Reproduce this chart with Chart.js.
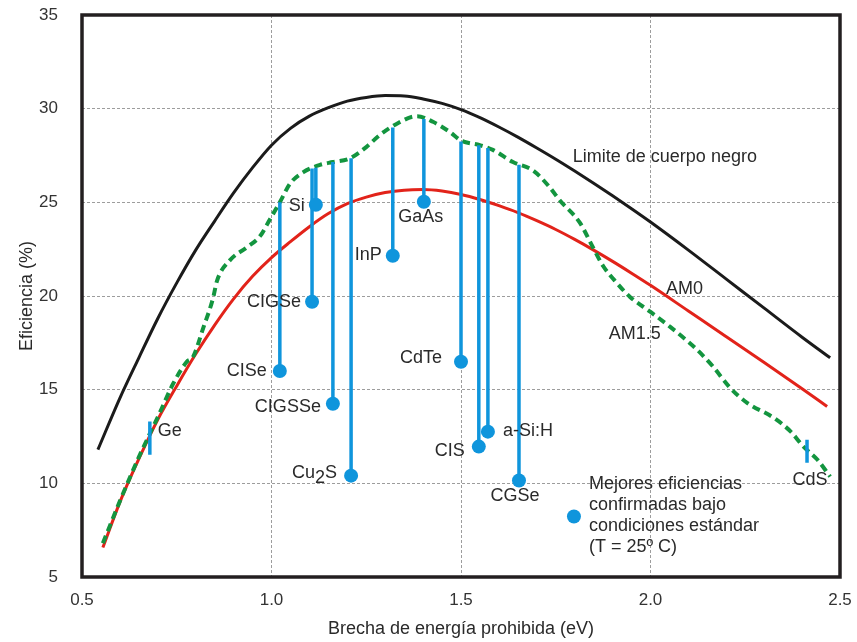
<!DOCTYPE html>
<html><head><meta charset="utf-8">
<script src="https://cdn.jsdelivr.net/npm/chart.js@4/dist/chart.umd.min.js"></script>
<style>html,body{margin:0;padding:0;background:#fff}#wrap{width:857px;height:642px}</style>
</head><body><div id="wrap"><canvas id="c" width="857" height="642"></canvas></div>
<script>
// ---------- DATA ----------
const blackbodyGap = [0.542,0.6,0.65,0.7,0.75,0.8,0.85,0.9,0.95,1.0,1.05,1.1,1.15,1.2,1.25,1.3,1.35,1.4,1.45,1.5,1.55,1.6,1.65,1.7,1.75,1.8,1.85,1.9,1.95,2.0,2.1,2.2,2.3,2.4,2.474];
const blackbodyEff = [11.8,14.55,16.7,18.8,20.7,22.45,24.0,25.5,26.85,28.05,28.95,29.6,30.05,30.4,30.6,30.7,30.68,30.52,30.28,29.95,29.52,29.02,28.48,27.9,27.3,26.67,26.02,25.35,24.66,23.95,22.45,20.9,19.35,17.8,16.7];

const am0Gap = [0.555,0.6,0.65,0.7,0.75,0.8,0.85,0.9,0.95,1.0,1.05,1.1,1.15,1.2,1.25,1.3,1.35,1.4,1.45,1.5,1.55,1.6,1.65,1.7,1.75,1.8,1.85,1.9,1.95,2.0,2.1,2.2,2.3,2.4,2.466];
const am0Eff = [6.57,9.0,11.3,13.4,15.2,16.9,18.45,19.85,21.05,22.05,22.9,23.7,24.4,24.93,25.28,25.52,25.65,25.68,25.6,25.42,25.15,24.82,24.45,24.02,23.55,23.02,22.45,21.85,21.22,20.57,19.2,17.83,16.45,15.05,14.1];

const am15Gap = [0.555,0.6,0.65,0.679,0.706,0.74,0.777,0.793,0.82,0.846,0.856,0.89,0.935,0.97,0.996,1.022,1.049,1.083,1.128,1.162,1.207,1.25,1.286,1.331,1.384,1.426,1.471,1.5,1.55,1.584,1.637,1.69,1.73,1.761,1.814,1.848,1.875,1.911,1.946,2.0,2.052,2.1,2.123,2.165,2.21,2.255,2.325,2.37,2.403,2.44,2.474];
const am15Eff = [6.8,9.05,11.4,12.65,13.8,15.3,16.5,16.75,18.3,19.9,20.8,21.9,22.6,23.2,24.1,25.0,26.0,26.6,27.0,27.15,27.35,27.95,28.6,29.2,29.6,29.3,28.75,28.3,28.05,27.8,27.15,26.7,25.9,25.1,23.9,22.6,21.6,20.7,19.95,19.15,18.35,17.55,17.13,16.23,15.1,14.3,13.5,12.76,11.97,11.27,10.36];

const materials   = ['CISe','CIGSe','Si','CIGSSe','Cu2S','InP','GaAs','CdTe','CIS','a-Si:H','CGSe'];
const materialGap = [1.022,1.107,1.117,1.162,1.21,1.32,1.402,1.5,1.547,1.571,1.653];
const materialEff = [16.0,19.69,24.87,14.25,10.41,22.15,25.03,16.49,11.96,12.76,10.15];
const materialAM15 = [25.0,26.8,26.85,27.15,27.35,29.0,29.45,28.25,28.05,27.9,27.0];

const barMarkers   = ['Ge','CdS'];
const barMarkerGap = [0.679,2.413];
const barMarkerLow = [11.53,11.1];
const barMarkerHigh= [13.3,12.33];

const curveLabels = ['Limite de cuerpo negro','AM0','AM1.5'];
const curveLabelGap = [1.795,2.041,1.89];
const curveLabelEff = [27.42,20.38,17.95];

const legendLines = ['Mejores eficiencias','confirmadas bajo','condiciones estándar','(T = 25º C)'];
const legendGap = [1.798];
const legendEff = [8.23];

const xTicks = [0.5,1.0,1.5,2.0,2.5];
const yTicks = [5,10,15,20,25,30,35];

// ---------- STYLE ----------
const FONT = "'Liberation Sans', Arial, Helvetica, sans-serif";
const BLUE = '#0f95dc';
const TXT = '#2a2a2a';
const materialLabelStyle = {
  'CISe':[-13,0,'right'], 'CIGSe':[-11,0,'right'], 'Si':[-11,1,'right'], 'CIGSSe':[-12,3,'right'],
  'Cu2S':[-14,-3,'right'], 'InP':[-11,-1,'right'], 'GaAs':[-3,15,'center'], 'CdTe':[-19,-4,'right'],
  'CIS':[-14,4,'right'], 'a-Si:H':[15,-1,'left'], 'CGSe':[-4,16,'center']
};
const markerLabelStyle = { 'Ge':[8,-7,'left','high'], 'CdS':[3,17,'center','low'] };
const legendLineOffsets = [-32,-11,10,31];

const pts = (xs, ys) => xs.map((x,i)=>({x, y: ys[i]}));
const stemPts = [];
materialGap.forEach((g,i)=>{ stemPts.push({x:g,y:materialAM15[i]},{x:g,y:materialEff[i]},{x:g,y:null}); });
const tickPts = [];
barMarkerGap.forEach((g,i)=>{ tickPts.push({x:g,y:barMarkerHigh[i]},{x:g,y:barMarkerLow[i]},{x:g,y:null}); });

function drawFormula(ctx, text, x, y, align){
  const parts = text.split(/(\d)/).filter(s=>s.length);
  const widths = parts.map(p=>ctx.measureText(p).width);
  const total = widths.reduce((a,b)=>a+b,0);
  let sx = align==='right' ? x-total : align==='center' ? x-total/2 : x;
  ctx.textAlign='left';
  parts.forEach((p,i)=>{ ctx.fillText(p, sx, /^\d$/.test(p) ? y+5 : y); sx += widths[i]; });
}

const annot = {
  id:'annot',
  afterDatasetsDraw(chart){
    const ctx = chart.ctx, xs = chart.scales.x, ys = chart.scales.y;
    ctx.save();
    ctx.fillStyle = TXT;
    ctx.font = '18px ' + FONT;
    ctx.textBaseline = 'middle';
    materials.forEach((m,i)=>{
      const [dx,dy,al] = materialLabelStyle[m];
      drawFormula(ctx, m, xs.getPixelForValue(materialGap[i])+dx, ys.getPixelForValue(materialEff[i])+dy, al);
    });
    barMarkers.forEach((m,i)=>{
      const [dx,dy,al,ref] = markerLabelStyle[m];
      const yv = ref==='high' ? (barMarkerHigh[i]+barMarkerLow[i])/2 : barMarkerLow[i];
      drawFormula(ctx, m, xs.getPixelForValue(barMarkerGap[i])+dx, ys.getPixelForValue(yv)+dy, al);
    });
    curveLabels.forEach((t,i)=>{
      ctx.textAlign='left';
      ctx.fillText(t, xs.getPixelForValue(curveLabelGap[i]), ys.getPixelForValue(curveLabelEff[i]));
    });
    const lx = xs.getPixelForValue(legendGap[0]) + 15, ly = ys.getPixelForValue(legendEff[0]);
    legendLines.forEach((t,i)=>{ ctx.textAlign='left'; ctx.fillText(t, lx, ly + legendLineOffsets[i]); });
    ctx.restore();
  },
  afterDraw(chart){
    const {ctx, chartArea:a} = chart;
    ctx.save();
    ctx.strokeStyle = '#231f20';
    ctx.lineWidth = 3.5;
    ctx.strokeRect(a.left, a.top, a.right-a.left, a.bottom-a.top);
    ctx.restore();
  }
};

new Chart(document.getElementById('c'), {
  type:'scatter',
  data:{ datasets:[
    {label:'dots', data:pts(materialGap,materialEff), pointRadius:7, pointHoverRadius:7, backgroundColor:BLUE, borderWidth:0, order:0},
    {label:'legend', data:pts(legendGap,legendEff), pointRadius:7, backgroundColor:BLUE, borderWidth:0, order:0},
    {label:'stems', data:stemPts, showLine:true, spanGaps:false, borderColor:BLUE, borderWidth:3.5, pointRadius:0, order:1},
    {label:'ticks', data:tickPts, showLine:true, spanGaps:false, borderColor:BLUE, borderWidth:3.5, pointRadius:0, order:1},
    {label:'AM1.5', data:pts(am15Gap,am15Eff), showLine:true, borderColor:'#13953f', borderWidth:4, borderDash:[8,5], pointRadius:0, cubicInterpolationMode:'monotone', order:2},
    {label:'AM0', data:pts(am0Gap,am0Eff), showLine:true, borderColor:'#e2231a', borderWidth:3, pointRadius:0, cubicInterpolationMode:'monotone', order:3},
    {label:'Blackbody', data:pts(blackbodyGap,blackbodyEff), showLine:true, borderColor:'#1b1b1b', borderWidth:3, pointRadius:0, cubicInterpolationMode:'monotone', order:4}
  ]},
  options:{
    responsive:false, animation:false, devicePixelRatio:1,
    layout:{padding:{top:15,right:17,left:0,bottom:0}},
    plugins:{legend:{display:false}, tooltip:{enabled:false}},
    scales:{
      x:{type:'linear', min:0.5, max:2.5,
        afterBuildTicks:(s)=>{ s.ticks = xTicks.map(v=>({value:v})); },
        afterFit:(s)=>{ s.height = 65; s.paddingLeft = 0; s.paddingRight = 0; s.paddingTop = 0; s.paddingBottom = 0; },
        ticks:{callback:(v)=>Number(v).toFixed(1), color:'#333', font:{family:FONT,size:17}, padding:13, maxRotation:0, autoSkip:false},
        grid:{color:'#9d9d9d', lineWidth:1, drawTicks:false},
        border:{display:false, dash:[3,2]},
        title:{display:true, text:'Brecha de energía prohibida (eV)', color:TXT, font:{family:FONT,size:18}, padding:{top:0,bottom:2}}
      },
      y:{type:'linear', min:5, max:35,
        afterBuildTicks:(s)=>{ s.ticks = yTicks.map(v=>({value:v})); },
        afterFit:(s)=>{ s.width = 82; s.paddingLeft = 0; s.paddingRight = 0; s.paddingTop = 0; s.paddingBottom = 0; },
        ticks:{color:'#333', font:{family:FONT,size:17}, padding:24},
        grid:{color:'#9d9d9d', lineWidth:1, drawTicks:false},
        border:{display:false, dash:[3,2]},
        title:{display:true, text:'Eficiencia (%)', color:TXT, font:{family:FONT,size:18}, padding:{top:16,bottom:0}}
      }
    }
  },
  plugins:[annot]
});
</script></body></html>
